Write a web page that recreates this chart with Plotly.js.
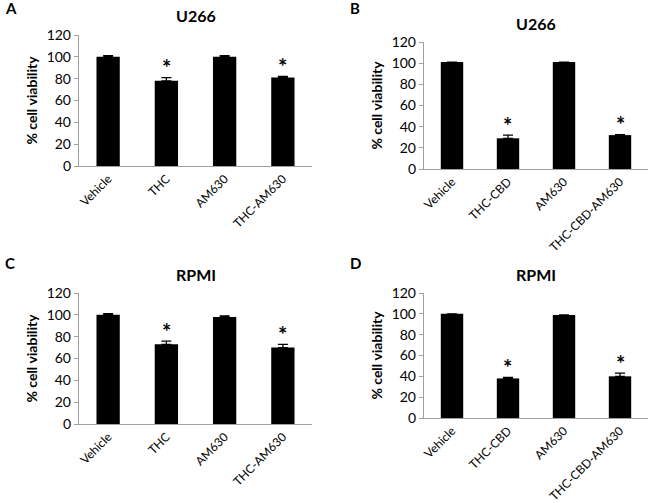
<!DOCTYPE html>
<html>
<head>
<meta charset="utf-8">
<script src="https://cdn.plot.ly/plotly-3.0.1.min.js"></script>
<style>html,body{margin:0;padding:0;background:#fff;}#chart{width:650px;height:503px;}</style>
</head>
<body>
<div id="chart"></div>
<script>
// Data
const catsTHC = ["Vehicle", "THC", "AM630", "THC-AM630"];
const catsCBD = ["Vehicle", "THC-CBD", "AM630", "THC-CBD-AM630"];
const valsA = [100, 78, 100, 81];
const errA = [1, 3, 1, 1];
const valsB = [101, 29, 101, 32];
const errB = [0, 3, 0, 0.5];
const valsC = [100, 73, 98, 70];
const errC = [1, 3, 1, 3];
const valsD = [100, 38, 99, 40];
const errD = [0, 1, 0, 3];
const starsA = [false, true, false, true];
const starsB = [false, true, false, true];
const starsC = [false, true, false, true];
const starsD = [false, true, false, true];
const panelLetters = ["A", "B", "C", "D"];
const panelTitles = ["U266", "U266", "RPMI", "RPMI"];
const yTicks = [0, 20, 40, 60, 80, 100, 120];
const yTitle = "% cell viability";

const W = 650, H = 503;
const FONT = "Lato, 'Open Sans', sans-serif";
// pixel boxes [x0, x1, yBottom(0), yTop(120)]
const boxes = [
  [79, 312, 166, 35],
  [424, 648, 169, 42],
  [79, 312, 424, 293],
  [424, 648, 418, 293]
];
const panels = [
  {cats: catsTHC, vals: valsA, err: errA, stars: starsA},
  {cats: catsCBD, vals: valsB, err: errB, stars: starsB},
  {cats: catsTHC, vals: valsC, err: errC, stars: starsC},
  {cats: catsCBD, vals: valsD, err: errD, stars: starsD}
];

const data = [];
const layout = {
  width: W, height: H,
  margin: {l: 0, r: 0, t: 0, b: 0},
  paper_bgcolor: "#fff", plot_bgcolor: "#fff",
  showlegend: false,
  font: {family: FONT, color: "#000", size: 13},
  annotations: []
};

panels.forEach((p, i) => {
  const n = i + 1;
  const xa = n === 1 ? "x" : "x" + n;
  const ya = n === 1 ? "y" : "y" + n;
  const b = boxes[i];
  data.push({
    type: "bar", x: p.cats, y: p.vals, xaxis: xa, yaxis: ya,
    marker: {color: "#000", line: {width: 0}},
    width: 0.4,
    error_y: {type: "data", array: p.err, symmetric: false, arrayminus: p.err.map(() => 0), color: "#000", thickness: 1.3, width: 5}
  });
  const xk = n === 1 ? "xaxis" : "xaxis" + n;
  const yk = n === 1 ? "yaxis" : "yaxis" + n;
  layout[xk] = {
    domain: [b[0] / W, b[1] / W], anchor: ya,
    showline: true, linecolor: "#a0a0a0", linewidth: 1.2,
    ticks: "", tickangle: -45, tickfont: {size: 12, family: FONT},
    showgrid: false, zeroline: false, fixedrange: true
  };
  layout[yk] = {
    domain: [1 - b[2] / H, 1 - b[3] / H], anchor: xa,
    range: [0, 120], tickvals: yTicks, ticktext: yTicks.map(String),
    showline: true, linecolor: "#a0a0a0", linewidth: 1.2,
    ticks: "outside", ticklen: 4, tickcolor: "#a0a0a0",
    tickfont: {size: 14, family: FONT},
    showgrid: false, zeroline: false,
    title: {text: "<b>" + yTitle + "</b>", font: {size: 14, family: FONT}, standoff: 5}
  };
  // panel title
  layout.annotations.push({
    xref: xk.replace("axis", "") + " domain", yref: "paper",
    x: 0.5, y: 1 - (b[3] - 19) / H, xanchor: "center", yanchor: "middle",
    text: "<b>" + panelTitles[i] + "</b>", showarrow: false,
    font: {size: 16, family: FONT}
  });
  // panel letter
  layout.annotations.push({
    xref: "paper", yref: "paper",
    x: (i % 2 === 0 ? 3 : 348) / W, y: 1 - (i < 2 ? 8 : 263) / H,
    xanchor: "left", yanchor: "middle",
    text: "<b>" + panelLetters[i] + "</b>", showarrow: false,
    font: {size: 15, family: FONT}
  });
  // stars
  p.cats.forEach((c, k) => {
    if (p.stars[k]) {
      layout.annotations.push({
        xref: xk.replace("axis", ""), yref: yk.replace("axis", ""),
        x: c, y: p.vals[k] + p.err[k], yshift: 10, yanchor: "middle",
        text: "<b>*</b>", showarrow: false, font: {size: 22, family: FONT}
      });
    }
  });
});

Plotly.newPlot("chart", data, layout, {displayModeBar: false, staticPlot: true});
</script>
</body>
</html>
